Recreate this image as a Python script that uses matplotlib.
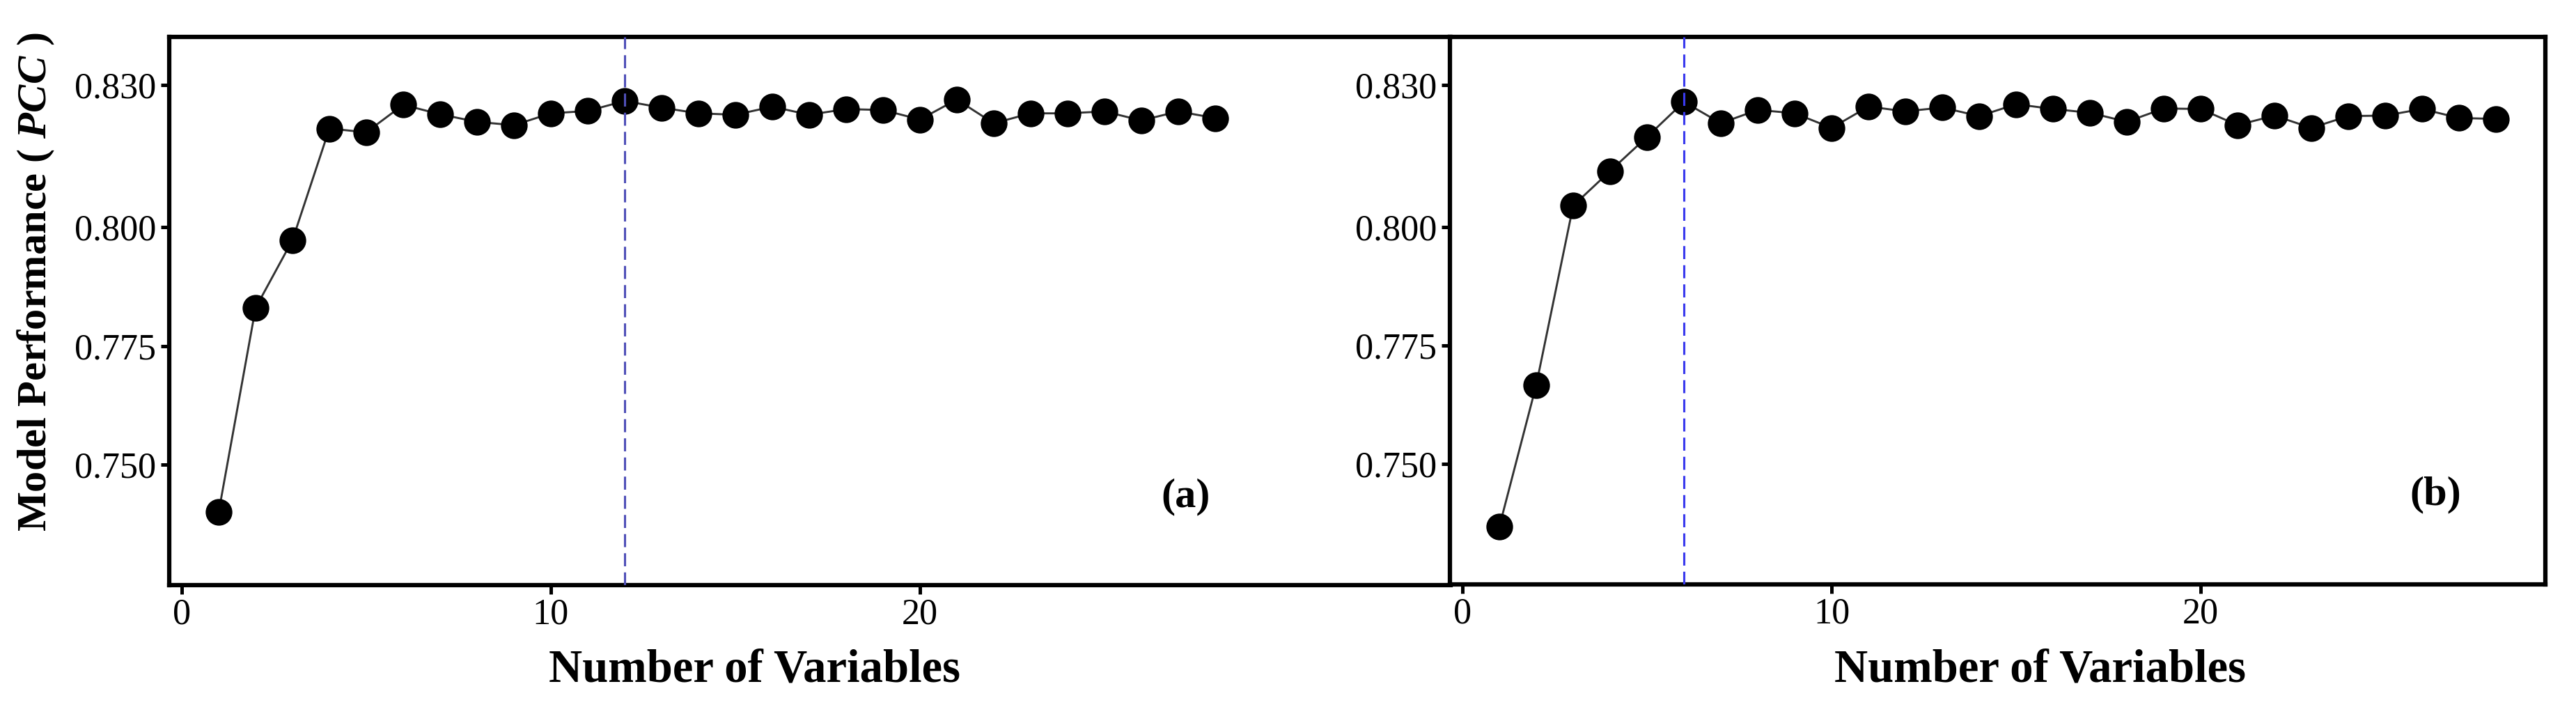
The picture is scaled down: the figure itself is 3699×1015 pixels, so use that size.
import matplotlib
matplotlib.use("Agg")
from matplotlib import pyplot as plt
import numpy as np

# values
n_vars = list(range(1, 29))
pcc_a = [0.740, 0.783, 0.7973, 0.8208, 0.8200, 0.8258, 0.8238, 0.8222, 0.8215, 0.8240,
         0.8245, 0.8266, 0.8252, 0.8240, 0.8237, 0.8254, 0.8237, 0.8249, 0.8247, 0.8227,
         0.8269, 0.8219, 0.8240, 0.8240, 0.8244, 0.8225, 0.8244, 0.8230]
pcc_b = [0.7368, 0.7667, 0.8045, 0.8118, 0.8190, 0.8264, 0.8219, 0.8247, 0.8240, 0.8209,
         0.8254, 0.8244, 0.8252, 0.8234, 0.8259, 0.8249, 0.8241, 0.8222, 0.8250, 0.8249,
         0.8215, 0.8235, 0.8209, 0.8234, 0.8235, 0.8249, 0.8230, 0.8228]
best_a = 12
best_b = 6
yticks = [0.750, 0.775, 0.800, 0.830]
ytick_labels = ["0.750", "0.775", "0.800", "0.830"]
xticks = [0, 10, 20]
panel_tags = ["(a)", "(b)"]
xlabel = "Number of Variables"
ylabel = r"Model Performance ( $\mathit{PCC}$ )"

plt.rcParams["font.family"] = ["Liberation Serif", "DejaVu Serif"]
plt.rcParams["mathtext.fontset"] = "custom"
plt.rcParams["mathtext.it"] = "Liberation Serif:italic:bold"
plt.rcParams["mathtext.rm"] = "Liberation Serif:bold"

W, H = 3699, 1015
dpi = 300
fig = plt.figure(figsize=(W / dpi, H / dpi), dpi=dpi)


def px_axes(x0, x1, y0, y1):
    # pixel box (top-left origin) -> figure fraction
    return fig.add_axes([x0 / W, 1 - y1 / H, (x1 - x0) / W, (y1 - y0) / H])


ax_a = px_axes(243, 2083, 53, 840)
ax_b = px_axes(2082, 3655, 53, 839)

ylim = (0.7246, 0.8401)
setups = [
    (ax_a, pcc_a, best_a, (-0.34, 34.38), "#5050b8", False),
    (ax_b, pcc_b, best_b, (-0.34, 29.34), "#3a3aee", True),
]
for ax, vals, best, xlim, vcol, right_spine in setups:
    ax.plot(n_vars, vals, color="#333333", lw=0.7, zorder=2)
    ax.plot(n_vars, vals, "o", color="black", ms=8.2, zorder=3)
    ax.axvline(best, color=vcol, lw=0.75, dashes=(6, 2.8), zorder=4)
    ax.set_xlim(*xlim)
    ax.set_ylim(*ylim)
    ax.set_xticks(xticks)
    ax.set_yticks(yticks)
    ax.set_yticklabels(ytick_labels)
    ax.tick_params(direction="out", length=3, width=1.2, labelsize=12.5, pad=1.5)
    for s in ["top", "left", "bottom"]:
        ax.spines[s].set_linewidth(1.5)
    ax.spines["right"].set_visible(right_spine)
    ax.spines["right"].set_linewidth(1.5)
    ax.patch.set_alpha(0)

ax_a.text(1703 / W, 1 - 713 / H, panel_tags[0], transform=fig.transFigure,
          ha="center", va="center", fontsize=14.5, fontweight="bold")
ax_b.text(3497 / W, 1 - 710 / H, panel_tags[1], transform=fig.transFigure,
          ha="center", va="center", fontsize=14.5, fontweight="bold")

fig.text(1083 / W, 1 - 962 / H, xlabel, ha="center", va="center",
         fontsize=16, fontweight="bold")
fig.text(2929 / W, 1 - 962 / H, xlabel, ha="center", va="center",
         fontsize=16, fontweight="bold")
fig.text(52 / W, 1 - 405 / H, ylabel, ha="center", va="center", rotation=90,
         fontsize=14.5, fontweight="bold")

fig.savefig("out.png", dpi=dpi)
